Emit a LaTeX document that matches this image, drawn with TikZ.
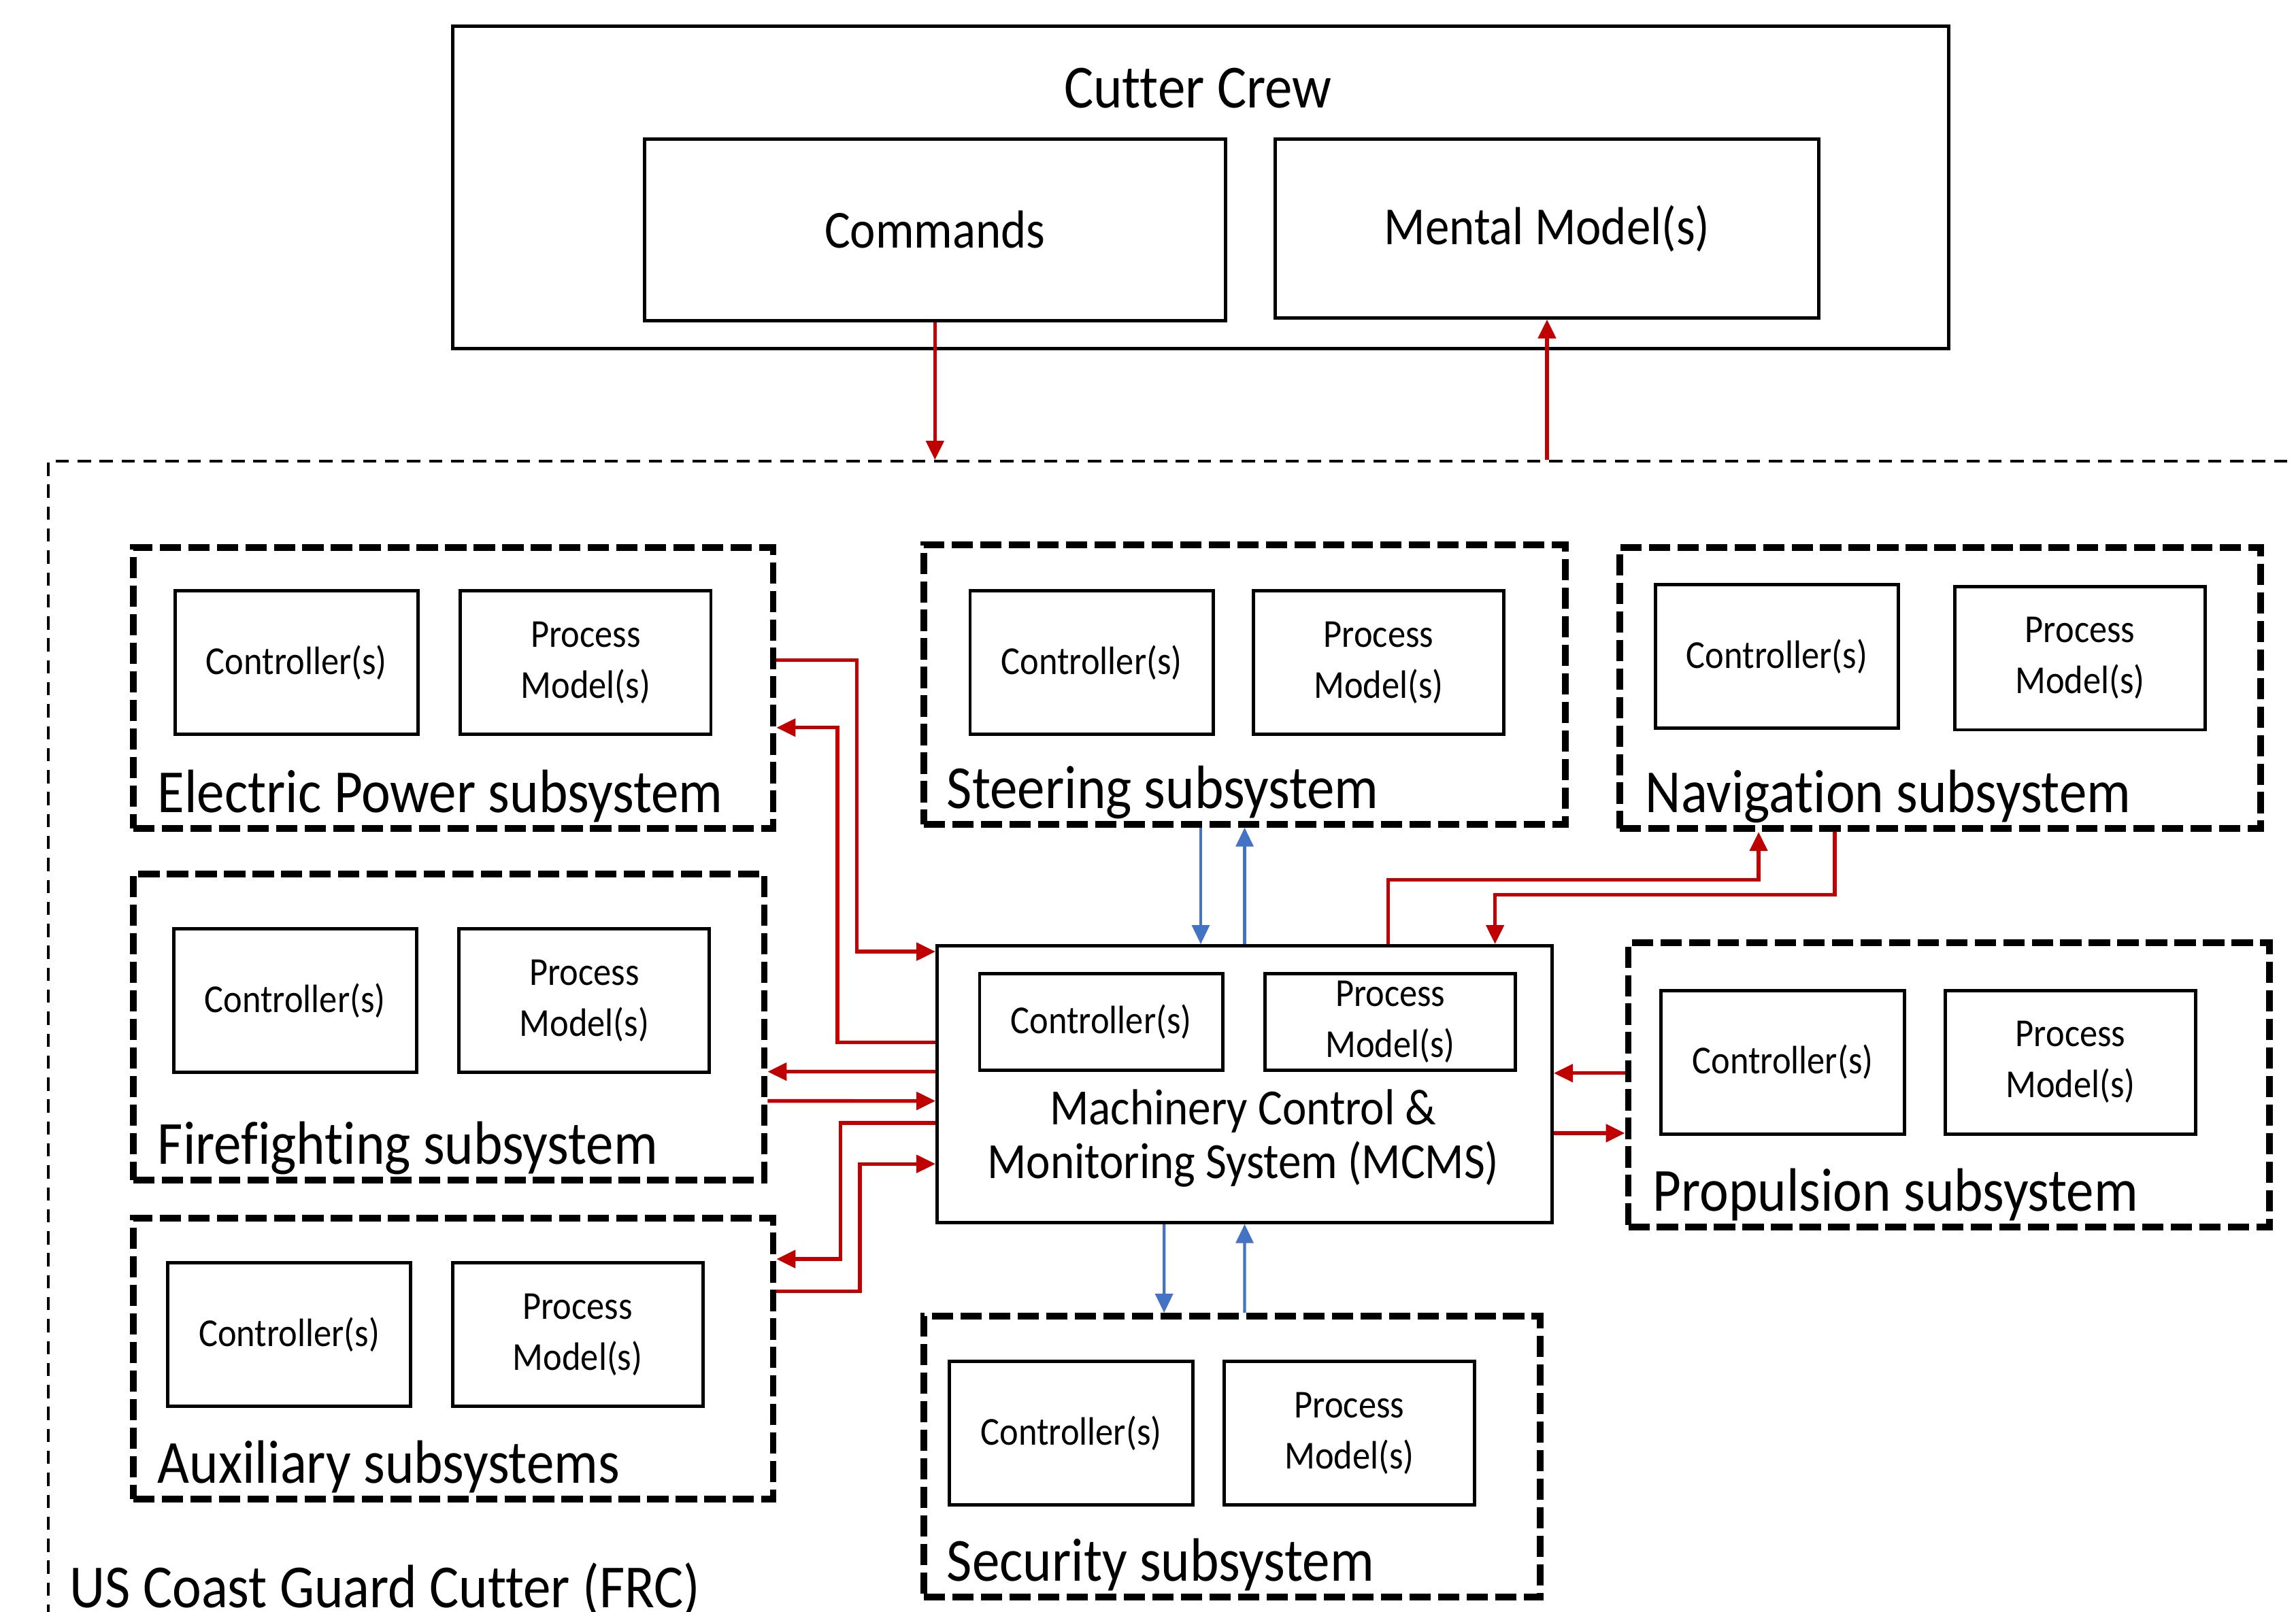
\documentclass[tikz,border=0pt]{standalone}
\usepackage{fontspec}
\setmainfont[FakeStretch=0.9, Ligatures=NoCommon]{Carlito}
\usetikzlibrary{arrows.meta}
\definecolor{flowred}{RGB}{192,0,0}
\definecolor{ctrlblue}{RGB}{68,114,196}
\begin{document}
\begin{tikzpicture}[x=0.1mm, y=-0.1mm, >={Triangle[length=1.3mm,width=1.2mm]},
	box/.style={draw, line width=0.65pt, inner sep=0pt, align=center},
	subsys/.style={draw, line width=1.3pt, dash pattern=on 1.45mm off 0.5mm, inner sep=0pt},
	frame/.style={draw, line width=0.5pt, dash pattern=on 0.9mm off 0.6mm, inner sep=0pt},
	sublabel/.style={anchor=base west, inner sep=0pt, font=\fontsize{11.9}{13}\selectfont},
	ctl/.style={box, minimum width=16.6mm, minimum height=9.8mm, font=\fontsize{7.7}{9.9}\selectfont},
	pm/.style={box, minimum width=17.1mm, minimum height=9.8mm, font=\fontsize{7.7}{9.9}\selectfont},
	red line/.style={draw=flowred, line width=0.7pt, ->},
	blue line/.style={draw=ctrlblue, line width=0.55pt, ->}]
	\useasboundingbox (0,0) rectangle (1568,1101);
	\clip (0,0) rectangle (1568,1101);
	% cutter crew
	\node[box, minimum width=102.2mm, minimum height=22mm] (crew) at (820,128) {};
	\node[font=\fontsize{11.9}{13}\selectfont] (crewlab) at (818,60) {Cutter Crew};
	\node[box, minimum width=39.7mm, minimum height=12.4mm, font=\fontsize{10.4}{12}\selectfont] (cmd) at (638.5,157) {Commands};
	\node[box, minimum width=37.1mm, minimum height=12.2mm, font=\fontsize{10.4}{12}\selectfont] (mental) at (1056.5,156) {Mental Model(s)};
	% the cutter
	\node[frame, minimum width=166.7mm, minimum height=98.5mm] (frc) at (866.5,807.5) {};
	\node[sublabel] (frclab) at (47,1098) {US Coast Guard Cutter (FRC)};
	% subsystems
	\node[subsys, minimum width=43.7mm, minimum height=19.2mm] (ep) at (309.5,470) {};
	\node[ctl] (epctl) at (202.5,452.5) {Controller(s)};
	\node[pm] (eppm) at (400,452.5) {Process\\Model(s)};
	\node[sublabel] (eplab) at (107,555) {Electric Power subsystem};
	\node[subsys, minimum width=43.8mm, minimum height=19.1mm] (ster) at (850,467.5) {};
	\node[ctl] (sterctl) at (745.5,452.5) {Controller(s)};
	\node[pm] (sterpm) at (941.5,452.5) {Process\\Model(s)};
	\node[sublabel] (sterlab) at (646,552) {Steering subsystem};
	\node[subsys, minimum width=43.8mm, minimum height=19.2mm] (nav) at (1325,470) {};
	\node[ctl] (navctl) at (1213.5,448.5) {Controller(s)};
	\node[pm] (navpm) at (1420.5,449.5) {Process\\Model(s)};
	\node[sublabel] (navlab) at (1123,555) {Navigation subsystem};
	\node[subsys, minimum width=43.1mm, minimum height=20.9mm] (fire) at (306.5,701.5) {};
	\node[ctl] (firectl) at (201.5,683.5) {Controller(s)};
	\node[pm] (firepm) at (399,683.5) {Process\\Model(s)};
	\node[sublabel] (firelab) at (107,795) {Firefighting subsystem};
	\node[subsys, minimum width=43.7mm, minimum height=19.2mm] (aux) at (309.5,928) {};
	\node[ctl] (auxctl) at (197.5,911.5) {Controller(s)};
	\node[pm] (auxpm) at (394.5,911.5) {Process\\Model(s)};
	\node[sublabel] (auxlab) at (107,1013) {Auxiliary subsystems};
	\node[subsys, minimum width=42.1mm, minimum height=19.2mm] (sec) at (841.5,995) {};
	\node[ctl] (secctl) at (731.5,979) {Controller(s)};
	\node[pm] (secpm) at (921.5,979) {Process\\Model(s)};
	\node[sublabel] (seclab) at (646,1080) {Security subsystem};
	\node[subsys, minimum width=43.8mm, minimum height=19.4mm] (prop) at (1331,741) {};
	\node[ctl] (propctl) at (1217.5,725.5) {Controller(s)};
	\node[pm] (proppm) at (1414,725.5) {Process\\Model(s)};
	\node[sublabel] (proplab) at (1128,827) {Propulsion subsystem};
	% MCMS
	\node[box, minimum width=42mm, minimum height=18.9mm] (mcms) at (850,740.5) {};
	\node[ctl, minimum height=6.6mm] (mcmsctl) at (752,698) {Controller(s)};
	\node[pm, minimum height=6.6mm] (mcmspm) at (949.5,698) {Process\\Model(s)};
	\node[align=center, font=\fontsize{9.85}{10.5}\selectfont] (mcmslab) at (849,777.5) {Machinery Control \&\\Monitoring System (MCMS)};
	% crew <-> cutter
	\draw[red line] (cmd.south) -- (cmd.south |- frc.north);
	\draw[red line] (mental.south |- frc.north) -- (mental.south);
	% left side
	\draw[red line] ([yshift=1.9mm]ep.east) -- ++(55,0) |- ([yshift=9.05mm]mcms.west);
	\draw[red line] ([yshift=2.85mm]mcms.west) -- ++(-67,0) |- ([yshift=-2.7mm]ep.east);
	\draw[red line] ([yshift=0.85mm]mcms.west) -- ([yshift=-3.05mm]fire.east);
	\draw[red line] ([yshift=-5.05mm]fire.east) -- ([yshift=-1.15mm]mcms.west);
	\draw[red line] ([yshift=-2.65mm]mcms.west) -- ++(-65,0) |- ([yshift=6.8mm]aux.east);
	\draw[red line] ([yshift=4.6mm]aux.east) -- ++(57,0) |- ([yshift=-5.45mm]mcms.west);
	% right side
	\draw[red line] ([xshift=9.8mm]mcms.north) -- ++(0,-44) -| ([xshift=-12.4mm]nav.south);
	\draw[red line] ([xshift=-7.2mm]nav.south) -- ++(0,43) -| ([xshift=17.1mm]mcms.north);
	\draw[red line] ([yshift=0.8mm]prop.west) -- ([yshift=0.75mm]mcms.east);
	\draw[red line] ([yshift=-3.35mm]mcms.east) -- ([yshift=-3.3mm]prop.west);
	% steering and security
	\draw[blue line] ([xshift=-3mm]ster.south) -- ([xshift=-3mm]mcms.north);
	\draw[blue line] (mcms.north) -- (ster.south);
	\draw[blue line] ([xshift=-5.5mm]mcms.south) -- ([xshift=-4.65mm]sec.north);
	\draw[blue line] ([xshift=0.85mm]sec.north) -- (mcms.south);
\end{tikzpicture}
\end{document}
